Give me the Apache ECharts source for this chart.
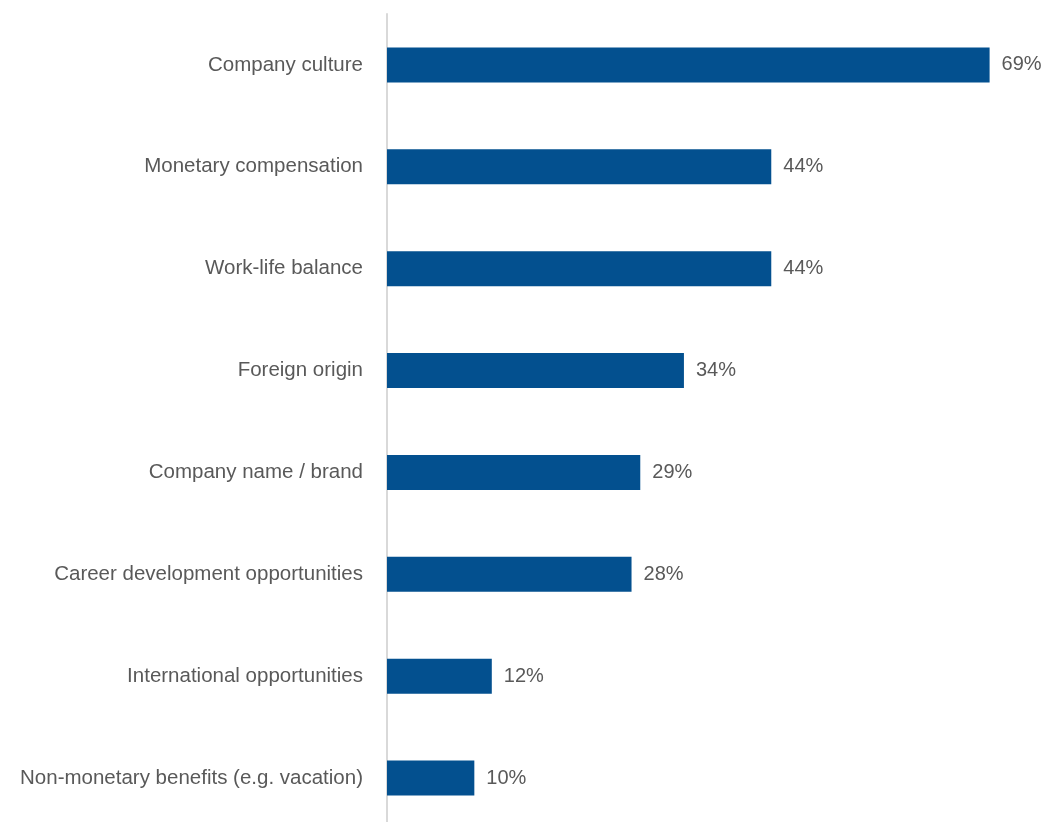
<!DOCTYPE html>
<html>
<head>
<meta charset="utf-8">
<script src="https://cdn.jsdelivr.net/npm/echarts@6/dist/echarts.min.js"></script>
<style>
  html, body { margin: 0; padding: 0; background: #ffffff; overflow: hidden; }
  /* the plot runs a little past the bottom edge of the window */
  #chart { width: 1042px; height: 832px; }
</style>
</head>
<body>
<div id="chart"></div>
<script>
// Factors ranked by share of respondents (top to bottom)
const categories = [
  'Company culture',
  'Monetary compensation',
  'Work-life balance',
  'Foreign origin',
  'Company name / brand',
  'Career development opportunities',
  'International opportunities',
  'Non-monetary benefits (e.g. vacation)'
];
const shares = [69, 44, 44, 34, 29, 28, 12, 10];

const chart = echarts.init(document.getElementById('chart'), null, { renderer: 'canvas' });

chart.setOption({
  animation: false,
  backgroundColor: '#ffffff',
  grid: { left: 387, top: 14, right: 0, height: 815, containLabel: false },
  xAxis: {
    type: 'value',
    min: 0,
    max: 75,
    show: false,
    splitLine: { show: false }
  },
  yAxis: {
    type: 'category',
    data: categories,
    inverse: true,
    axisLine: { show: true, lineStyle: { color: '#d9d9d9', width: 2 } },
    axisTick: { show: false },
    axisLabel: {
      margin: 24,
      color: '#595959',
      fontSize: 20.5,
      fontFamily: 'Liberation Sans, Arial, sans-serif'
    },
    splitLine: { show: false }
  },
  series: [{
    type: 'bar',
    data: shares,
    barWidth: 35,
    itemStyle: { color: '#03508f' },
    label: {
      show: true,
      position: 'right',
      distance: 12,
      formatter: '{c}%',
      color: '#595959',
      fontSize: 20,
      fontFamily: 'Liberation Sans, Arial, sans-serif'
    }
  }]
});
</script>
</body>
</html>
